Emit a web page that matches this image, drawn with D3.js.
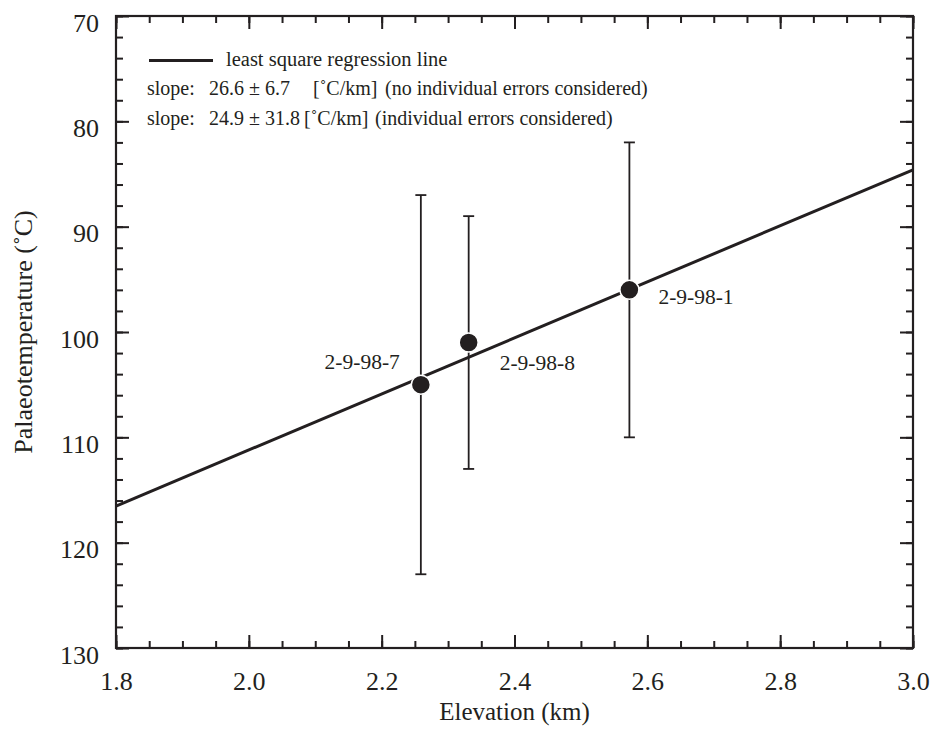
<!DOCTYPE html>
<html>
<head>
<meta charset="utf-8">
<script src="https://cdn.jsdelivr.net/npm/d3@7"></script>
<style>
  body { margin: 0; background: #fff; }
  svg { display: block; }
</style>
</head>
<body>
<svg id="chart" width="933" height="740"></svg>
<script>
// Samples: elevation (km), palaeotemperature (°C) and its uncertainty
const sampleNames = ["2-9-98-7", "2-9-98-8", "2-9-98-1"];
const elevation = [2.259, 2.331, 2.573];
const temperature = [105, 101, 96];
const tempError = [18, 12, 14];

// Least-squares regression line: T = intercept - slope * elevation
const regSlope = 26.6;
const regIntercept = 164.4;

const xDomain = [1.8, 3.0];
const yDomain = [70, 130];
const xMajorTicks = [1.8, 2.0, 2.2, 2.4, 2.6, 2.8, 3.0];
const yMajorTicks = [70, 80, 90, 100, 110, 120, 130];

const legendText = "least square regression line";
const slopeRows = [
  ["slope:", "26.6 ± 6.7", "[˚C/km]", "(no individual errors considered)"],
  ["slope:", "24.9 ± 31.8", "[˚C/km]", "(individual errors considered)"]
];

const W = 933, H = 740;
const margin = { left: 116, right: 20, top: 16, bottom: 92 };
const ink = "#231f20";
const serif = "'Liberation Serif'";

const svg = d3.select("#chart");
const x = d3.scaleLinear().domain(xDomain).range([margin.left, W - margin.right]);
const y = d3.scaleLinear().domain(yDomain).range([margin.top, H - margin.bottom]);

const xMinor = d3.range(0, 25).map(i => +(1.8 + i * 0.05).toFixed(2));
const yMinor = d3.range(0, 31).map(i => 70 + i * 2);

function styleAxis(g) {
  g.select(".domain").remove();
  g.selectAll("line").attr("stroke", ink).attr("stroke-width", 2);
}

// Minor and major ticks on all four sides, pointing inward
const bottomMinor = d3.axisBottom(x).tickValues(xMinor).tickSize(-7).tickFormat("");
const bottomMajor = d3.axisBottom(x).tickValues(xMajorTicks).tickSize(-13).tickPadding(28).tickFormat(d3.format(".1f"));
const topMinor = d3.axisTop(x).tickValues(xMinor).tickSize(-7).tickFormat("");
const topMajor = d3.axisTop(x).tickValues(xMajorTicks).tickSize(-13).tickFormat("");
const leftMinor = d3.axisLeft(y).tickValues(yMinor).tickSize(-7).tickFormat("");
const leftMajor = d3.axisLeft(y).tickValues(yMajorTicks).tickSize(-13).tickPadding(30).tickFormat(d3.format("d"));
const rightMinor = d3.axisRight(y).tickValues(yMinor).tickSize(-7).tickFormat("");
const rightMajor = d3.axisRight(y).tickValues(yMajorTicks).tickSize(-13).tickFormat("");

const yb = H - margin.bottom, yt = margin.top, xl = margin.left, xr = W - margin.right;
[[bottomMinor, `translate(0,${yb})`], [topMinor, `translate(0,${yt})`],
 [leftMinor, `translate(${xl},0)`], [rightMinor, `translate(${xr},0)`],
 [topMajor, `translate(0,${yt})`], [rightMajor, `translate(${xr},0)`]].forEach(([ax, tr]) => {
  svg.append("g").attr("transform", tr).call(ax).call(styleAxis);
});

const gx = svg.append("g").attr("transform", `translate(0,${yb})`).call(bottomMajor).call(styleAxis);
gx.attr("font-family", null).attr("font-size", null);
gx.selectAll("text").style("font-size", "26px").style("fill", ink)
  .style("font-family", serif).attr("dy", "0.52em");

const gy = svg.append("g").attr("transform", `translate(${xl},0)`).call(leftMajor).call(styleAxis);
gy.attr("font-family", null).attr("font-size", null);
gy.selectAll("text").style("font-size", "26px").style("fill", ink)
  .style("font-family", serif).attr("x", -17).attr("dy", "0.58em");

// Frame
svg.append("rect")
  .attr("x", xl).attr("y", yt).attr("width", xr - xl).attr("height", yb - yt)
  .attr("fill", "none").attr("stroke", ink).attr("stroke-width", 2.2);

function label(sel, size) {
  return sel.style("font-family", serif).style("font-size", size + "px").style("fill", ink);
}

// Axis titles
label(svg.append("text"), 25).attr("x", (xl + xr) / 2).attr("y", 720)
  .attr("text-anchor", "middle").text("Elevation (km)");
label(svg.append("text"), 26)
  .attr("transform", `translate(32,${(yt + yb) / 2}) rotate(-90)`)
  .attr("text-anchor", "middle").text("Palaeotemperature (˚C)");

// Regression line
const regLine = d3.line().x(d => x(d)).y(d => y(regIntercept - regSlope * d));
svg.append("path").datum(xDomain)
  .attr("d", regLine).attr("fill", "none").attr("stroke", ink).attr("stroke-width", 3);

// Error bars
const cap = 5.5;
const bars = svg.append("g").attr("stroke", ink).attr("stroke-width", 1.8);
elevation.forEach((e, i) => {
  const top = y(temperature[i] - tempError[i]);
  const bot = y(temperature[i] + tempError[i]);
  bars.append("line").attr("x1", x(e)).attr("x2", x(e)).attr("y1", top).attr("y2", bot);
  bars.append("line").attr("x1", x(e) - cap).attr("x2", x(e) + cap).attr("y1", top).attr("y2", top);
  bars.append("line").attr("x1", x(e) - cap).attr("x2", x(e) + cap).attr("y1", bot).attr("y2", bot);
});

// Sample points
svg.append("g").selectAll("circle").data(elevation).join("circle")
  .attr("cx", d => x(d)).attr("cy", (d, i) => y(temperature[i]))
  .attr("r", 9.5).attr("fill", ink).attr("stroke", "#fff").attr("stroke-width", 1.5);

// Sample labels
const labelOffsets = [[-21, -23, "end"], [31, 19.5, "start"], [29, 6.5, "start"]];
label(svg.append("g").selectAll("text").data(sampleNames).join("text"), 21.5)
  .attr("x", (d, i) => x(elevation[i]) + labelOffsets[i][0])
  .attr("y", (d, i) => y(temperature[i]) + labelOffsets[i][1])
  .attr("dy", "0.35em")
  .attr("text-anchor", (d, i) => labelOffsets[i][2])
  .text(d => d);

// Legend
svg.append("line").attr("x1", 149).attr("x2", 213).attr("y1", 60.5).attr("y2", 60.5)
  .attr("stroke", ink).attr("stroke-width", 3);
label(svg.append("text"), 20.5).attr("x", 226).attr("y", 66).text(legendText);

const colX = [[147, 209, 313, 385], [147, 209, 304, 375]];
const rowY = [95, 125];
slopeRows.forEach((row, r) => {
  const t = label(svg.append("text"), 20).attr("y", rowY[r]);
  row.forEach((s, c) => t.append("tspan").attr("x", colX[r][c]).text(s));
});
</script>
</body>
</html>
